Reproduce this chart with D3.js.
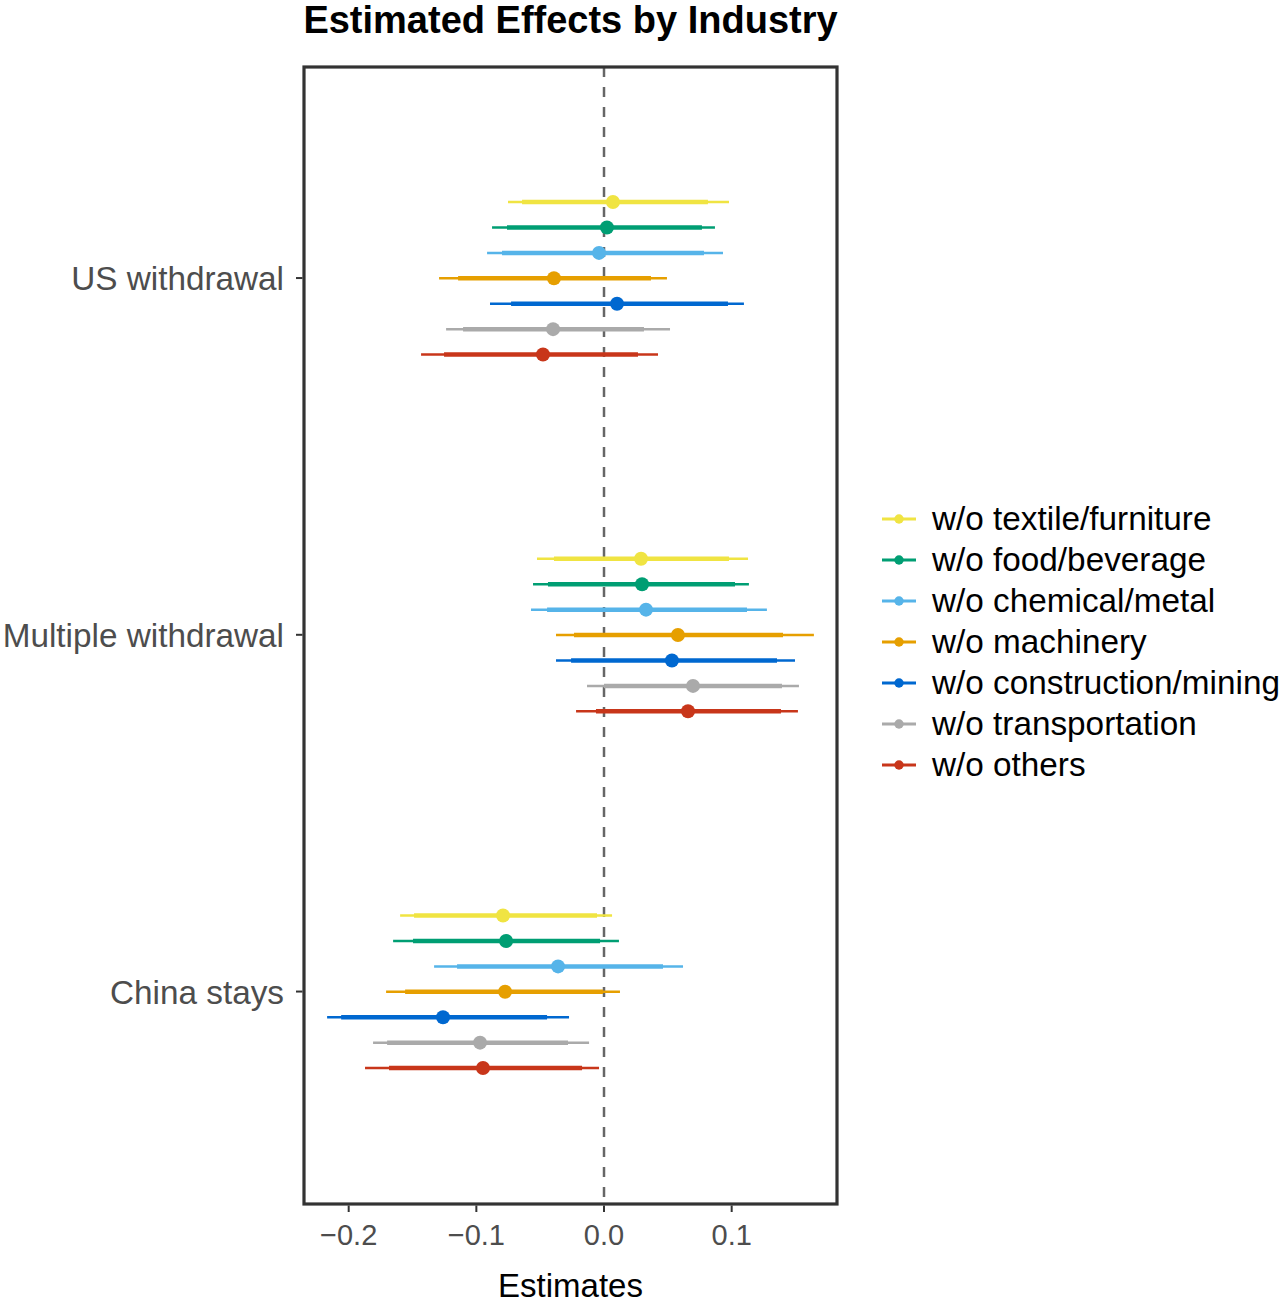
<!DOCTYPE html>
<meta charset="utf-8">
<head>
<style>
  body { margin: 0; background: #fff; }
  text { font-family: "Liberation Sans", Arial, sans-serif; }
</style>
<script src="https://d3js.org/d3.v7.min.js"></script>
</head>
<body>
<script>
// groups, top to bottom
var groups = ["US withdrawal", "Multiple withdrawal", "China stays"];
var series = ["w/o textile/furniture", "w/o food/beverage", "w/o chemical/metal",
              "w/o machinery", "w/o construction/mining", "w/o transportation", "w/o others"];
var colors = ["#F0E442", "#009E73", "#56B4E9", "#E69F00", "#0068D0", "#AAAAAA", "#C8361A"];
var xTicks = [-0.2, -0.1, 0.0, 0.1];

// one row per group, one value per series
var est = [
  [0.0070, 0.0023, -0.0039, -0.0392, 0.0102, -0.0399, -0.0478],
  [0.0290, 0.0298, 0.0329, 0.0579, 0.0532, 0.0697, 0.0658],
  [-0.0791, -0.0767, -0.0360, -0.0775, -0.1261, -0.0971, -0.0948]
];
// thick (inner) interval
var innerLo = [
  [-0.0642, -0.0760, -0.0799, -0.1143, -0.0728, -0.1104, -0.1253],
  [-0.0392, -0.0439, -0.0446, -0.0235, -0.0258, 0.0000, -0.0063],
  [-0.1488, -0.1496, -0.1151, -0.1558, -0.2059, -0.1699, -0.1684]
];
var innerHi = [
  [0.0814, 0.0767, 0.0783, 0.0368, 0.0971, 0.0313, 0.0266],
  [0.0979, 0.1026, 0.1120, 0.1402, 0.1355, 0.1394, 0.1386],
  [-0.0055, -0.0031, 0.0462, -0.0008, -0.0446, -0.0282, -0.0172]
];
// thin (outer) interval
var outerLo = [
  [-0.0752, -0.0877, -0.0916, -0.1292, -0.0893, -0.1237, -0.1433],
  [-0.0525, -0.0556, -0.0572, -0.0376, -0.0376, -0.0133, -0.0219],
  [-0.1597, -0.1652, -0.1331, -0.1707, -0.2169, -0.1809, -0.1872]
];
var outerHi = [
  [0.0979, 0.0869, 0.0932, 0.0493, 0.1096, 0.0517, 0.0423],
  [0.1128, 0.1135, 0.1276, 0.1644, 0.1496, 0.1527, 0.1519],
  [0.0063, 0.0117, 0.0619, 0.0125, -0.0274, -0.0117, -0.0039]
];

var W = 1279, H = 1303;
var panel = {left: 304, right: 837, top: 67, bottom: 1204};

var svg = d3.select("body").append("svg")
    .attr("width", W).attr("height", H);

var x = d3.scaleLinear()
    .domain([-0.235, 0.1825])
    .range([panel.left, panel.right]);

var y = d3.scalePoint()
    .domain(groups)
    .range([64, 1205.6])
    .padding(0.6);

var dodge = d3.scalePoint()
    .domain(series)
    .range([-76, 76.5]);

var color = d3.scaleOrdinal().domain(series).range(colors);

// flatten into rows
var rows = [];
groups.forEach(function(g, gi) {
  series.forEach(function(s, si) {
    rows.push({group: g, series: s, est: est[gi][si],
      ilo: innerLo[gi][si], ihi: innerHi[gi][si],
      olo: outerLo[gi][si], ohi: outerHi[gi][si]});
  });
});
function yy(d) { return y(d.group) + dodge(d.series); }

// zero line
svg.append("line")
    .attr("x1", x(0)).attr("x2", x(0))
    .attr("y1", panel.top).attr("y2", panel.bottom)
    .attr("stroke", "#666").attr("stroke-width", 2.5)
    .attr("stroke-dasharray", "10,10");

var marks = svg.append("g");
marks.selectAll(".outer").data(rows).enter().append("line")
    .attr("x1", d => x(d.olo)).attr("x2", d => x(d.ohi))
    .attr("y1", yy).attr("y2", yy)
    .attr("stroke", d => color(d.series)).attr("stroke-width", 2.5);
marks.selectAll(".inner").data(rows).enter().append("line")
    .attr("x1", d => x(d.ilo)).attr("x2", d => x(d.ihi))
    .attr("y1", yy).attr("y2", yy)
    .attr("stroke", d => color(d.series)).attr("stroke-width", 4.5);
marks.selectAll("circle").data(rows).enter().append("circle")
    .attr("cx", d => x(d.est)).attr("cy", yy).attr("r", 7)
    .attr("fill", d => color(d.series));

// panel border
svg.append("rect")
    .attr("x", panel.left).attr("y", panel.top)
    .attr("width", panel.right - panel.left).attr("height", panel.bottom - panel.top)
    .attr("fill", "none").attr("stroke", "#333").attr("stroke-width", 3.2);

// x axis
var xa = svg.append("g");
xTicks.forEach(function(t) {
  xa.append("line")
      .attr("x1", x(t)).attr("x2", x(t))
      .attr("y1", panel.bottom + 1.5).attr("y2", panel.bottom + 8)
      .attr("stroke", "#333").attr("stroke-width", 2);
  xa.append("text")
      .attr("x", x(t)).attr("y", 1245)
      .attr("text-anchor", "middle")
      .attr("font-size", 29).attr("fill", "#4D4D4D")
      .text(d3.format(".1f")(t).replace("-", "\u2212"));
});

// y axis
groups.forEach(function(g) {
  svg.append("line")
      .attr("x1", panel.left - 8).attr("x2", panel.left - 1.5)
      .attr("y1", y(g)).attr("y2", y(g))
      .attr("stroke", "#333").attr("stroke-width", 2);
  svg.append("text")
      .attr("x", panel.left - 20).attr("y", y(g))
      .attr("dy", "0.36em")
      .attr("text-anchor", "end")
      .attr("font-size", 33.3).attr("fill", "#4D4D4D")
      .text(g);
});

// titles
svg.append("text")
    .attr("x", (panel.left + panel.right) / 2).attr("y", 33)
    .attr("text-anchor", "middle")
    .attr("font-size", 38).attr("font-weight", "bold")
    .text("Estimated Effects by Industry");
svg.append("text")
    .attr("x", (panel.left + panel.right) / 2).attr("y", 1297)
    .attr("text-anchor", "middle")
    .attr("font-size", 33)
    .text("Estimates");

// legend
var legend = svg.append("g").attr("transform", "translate(882,519)");
var item = legend.selectAll("g").data(series).enter().append("g")
    .attr("transform", (d, i) => "translate(0," + i * 41 + ")");
item.append("line")
    .attr("x1", 0).attr("x2", 34).attr("y1", 0).attr("y2", 0)
    .attr("stroke", d => color(d)).attr("stroke-width", 3);
item.append("circle")
    .attr("cx", 17).attr("cy", 0).attr("r", 4.7)
    .attr("fill", d => color(d));
item.append("text")
    .attr("x", 50).attr("y", 0).attr("dy", "0.33em")
    .attr("font-size", 33.3)
    .text(d => d);
</script>
</body>
